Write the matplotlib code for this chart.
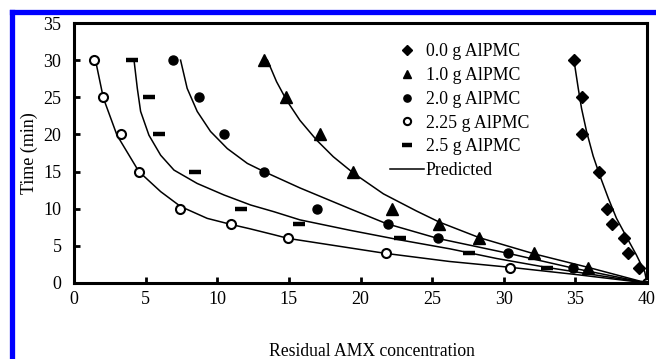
import matplotlib
matplotlib.use("Agg")
import matplotlib.pyplot as plt
from matplotlib.lines import Line2D

plt.rcParams['font.family'] = ['Liberation Serif', 'DejaVu Serif']

# measured times (min)
times = [30, 25, 20, 15, 10, 8, 6, 4, 2, 0]

# residual AMX for each dose
x_00 = [34.9, 35.47, 35.47, 36.66, 37.24, 37.57, 38.4, 38.68, 39.42, 40.0]
x_10 = [13.28, 14.77, 17.2, 19.5, 22.17, 25.47, 28.26, 32.1, 35.9, 40.0]
x_20 = [6.89, 8.72, 10.47, 13.28, 16.96, 21.9, 25.4, 30.3, 34.85, 40.0]
x_225 = [1.4, 2.05, 3.28, 4.56, 7.4, 10.93, 14.96, 21.77, 30.47, 40.0]
x_25 = [4.07, 5.25, 5.93, 8.45, 11.64, 15.72, 22.75, 27.6, 33.05, 40.0]

# predicted curves
pred_00_x = [34.9, 35.2, 35.43, 35.78, 36.24, 36.7, 37.3, 37.87, 38.57, 39.26, 39.84, 40.0]
pred_00_t = [30, 26.2, 23.5, 20.4, 17.1, 14.5, 11.4, 8.7, 6.2, 3.77, 1.5, 0]
pred_10_x = [13.5, 14.14, 14.84, 15.77, 16.93, 18.1, 19.5, 21.6, 23.9, 25.5, 28.3, 32.17, 35.9, 40.0]
pred_10_t = [30, 27.1, 24.6, 21.9, 19.25, 17.0, 14.8, 12.0, 9.7, 8.2, 6.1, 3.9, 2.1, 0]
pred_20_x = [7.44, 7.9, 8.6, 9.53, 10.7, 12.1, 13.26, 15.77, 19.26, 21.8, 25.4, 30.3, 34.85, 40.0]
pred_20_t = [30, 26.2, 23.1, 20.4, 18.1, 16.1, 15.0, 12.8, 10.0, 8.0, 6.0, 4.0, 2.0, 0]
pred_225_x = [1.5, 2.05, 3.0, 4.53, 6.05, 7.44, 9.3, 10.93, 12.28, 13.95, 14.96, 21.7, 26.2, 30.5, 35.0, 40.0]
pred_225_t = [30, 24.9, 19.9, 15.0, 12.3, 10.3, 8.7, 7.9, 7.3, 6.5, 6.0, 4.0, 2.9, 2.1, 1.15, 0]
pred_25_x = [4.19, 4.42, 4.65, 5.23, 6.05, 6.98, 8.6, 10.47, 12.33, 13.95, 15.77, 19.26, 22.75, 26.24, 29.5, 33.0, 40.0]
pred_25_t = [30, 26.2, 23.1, 19.9, 17.2, 15.2, 13.4, 11.85, 10.5, 9.6, 8.5, 7.1, 5.8, 4.6, 3.3, 2.1, 0]

fig = plt.figure(figsize=(6.56, 3.59), dpi=100)
ax = fig.add_axes([0.1128, 0.2117, 0.8735, 0.7242])

# predicted lines
for px, pt in [(pred_00_x, pred_00_t), (pred_10_x, pred_10_t), (pred_20_x, pred_20_t),
               (pred_225_x, pred_225_t), (pred_25_x, pred_25_t)]:
    ax.plot(px, pt, color='black', lw=1.1, zorder=2)

ax.plot(x_00, times, ls='none', marker='D', ms=6, color='black', label='0.0 g AlPMC', zorder=3)
ax.plot(x_10, times, ls='none', marker='^', ms=8, color='black', label='1.0 g AlPMC', zorder=3)
ax.plot(x_20, times, ls='none', marker='o', ms=6.5, color='black', label='2.0 g AlPMC', zorder=3)
ax.plot(x_225, times, ls='none', marker='o', ms=6.5, mfc='white', mec='black', mew=1.5,
        label='2.25 g AlPMC', zorder=3)
ax.plot(x_25, times, ls='none', marker='_', ms=9, mew=3.2, color='black', label='2.5 g AlPMC', zorder=3)
pred_handle = Line2D([], [], color='black', lw=1.1, label='Predicted')

handles, labels = ax.get_legend_handles_labels()
handles.append(pred_handle)
labels.append('Predicted')
ax.legend(handles, labels, frameon=False, fontsize=12.8, loc='upper left',
          bbox_to_anchor=(0.53, 0.97), labelspacing=0.38, handletextpad=0.1,
          handlelength=1.9, markerscale=0.8, borderaxespad=0.3)

ax.set_xlim(0, 40)
ax.set_ylim(0, 35)
ax.set_xticks(range(0, 41, 5))
ax.set_yticks(range(0, 36, 5))
for s in ax.spines.values():
    s.set_linewidth(2.2)
ax.tick_params(direction='in', length=4, width=2, labelsize=13)
ax.tick_params(axis='y', pad=9)
ax.tick_params(axis='x', pad=6)

ax.set_ylabel('Time (min)', fontsize=13)
ax.yaxis.set_label_coords(-0.063, 0.5)
ax.set_xlabel('Residual AMX concentration', fontsize=12.7)
ax.xaxis.set_label_coords(0.52, -0.23)

# blue frame on top and left
fig.add_artist(Line2D([11.5 / 656, 11.5 / 656], [0, 1 - 12 / 359], color='#0000ff', lw=3.8,
                      transform=fig.transFigure, solid_capstyle='projecting'))
fig.add_artist(Line2D([11.5 / 656, 1], [1 - 12 / 359, 1 - 12 / 359], color='#0000ff', lw=3.8,
                      transform=fig.transFigure, solid_capstyle='projecting'))

fig.savefig('out.png', dpi=100)
